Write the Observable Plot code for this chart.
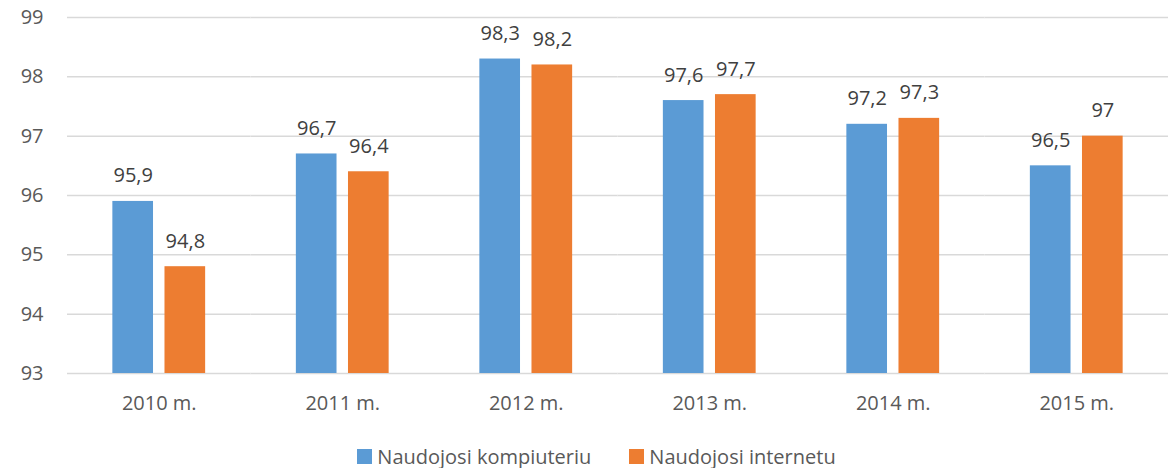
<!DOCTYPE html>
<html>
<head>
<meta charset="utf-8">
<script src="https://cdn.jsdelivr.net/npm/d3@7"></script>
<script src="https://cdn.jsdelivr.net/npm/@observablehq/plot@0.6"></script>
<style>
  html, body { margin: 0; padding: 0; background: #fff; }
  #chart { width: 1171px; }
  .legend { display: flex; justify-content: center; align-items: center; height: 24px; margin-top: 14px; padding-left: 22px;
    font-family: "Open Sans", sans-serif; font-size: 20px; color: #595959; }
  .legend .item { display: flex; align-items: center; margin: 0 19px; }
  .legend .sw { width: 15px; height: 15px; margin-right: 5px; }
</style>
</head>
<body>
<div id="chart"></div>
<script>
const years = ["2010 m.", "2011 m.", "2012 m.", "2013 m.", "2014 m.", "2015 m."];
const seriesNames = ["Naudojosi kompiuteriu", "Naudojosi internetu"];
const computerValues = [95.9, 96.7, 98.3, 97.6, 97.2, 96.5];
const internetValues = [94.8, 96.4, 98.2, 97.7, 97.3, 97];
const yTicks = [93, 94, 95, 96, 97, 98, 99];
const colors = ["#5B9BD5", "#ED7D31"];

const data = [];
years.forEach((y, i) => {
  data.push({year: y, series: seriesNames[0], value: computerValues[i]});
  data.push({year: y, series: seriesNames[1], value: internetValues[i]});
});
const fmt = v => String(v).replace(".", ",");

const chart = Plot.plot({
  width: 1171,
  height: 430,
  marginLeft: 67,
  marginRight: 3,
  marginTop: 17,
  marginBottom: 57,
  style: {fontFamily: "'Open Sans', sans-serif", fontSize: "20px", color: "#595959", background: "#fff"},
  fx: {domain: years, padding: 0, round: false, label: null, tickSize: 0, tickPadding: 22},
  x: {domain: seriesNames, axis: null, round: false, paddingInner: 0.22, paddingOuter: 0.87},
  y: {domain: [93, 99], ticks: yTicks, tickFormat: "d", tickSize: 0, tickPadding: 24, label: null},
  color: {domain: seriesNames, range: colors},
  marks: [
    Plot.ruleY(yTicks, {stroke: "#d9d9d9", strokeWidth: 1.5}),
    Plot.barY(data, {fx: "year", x: "series", y1: 93, y2: "value", fill: "series"}),
    Plot.text(data, {fx: "year", x: "series", y: "value", text: d => fmt(d.value), lineAnchor: "bottom", dy: -19, fill: "#404040", fontSize: 20})
  ]
});
document.getElementById("chart").appendChild(chart);

const legend = document.createElement("div");
legend.className = "legend";
seriesNames.forEach((s, i) => {
  const it = document.createElement("div");
  it.className = "item";
  const sw = document.createElement("div");
  sw.className = "sw";
  sw.style.background = colors[i];
  const t = document.createElement("span");
  t.textContent = s;
  it.appendChild(sw); it.appendChild(t);
  legend.appendChild(it);
});
document.body.appendChild(legend);
</script>
</body>
</html>
